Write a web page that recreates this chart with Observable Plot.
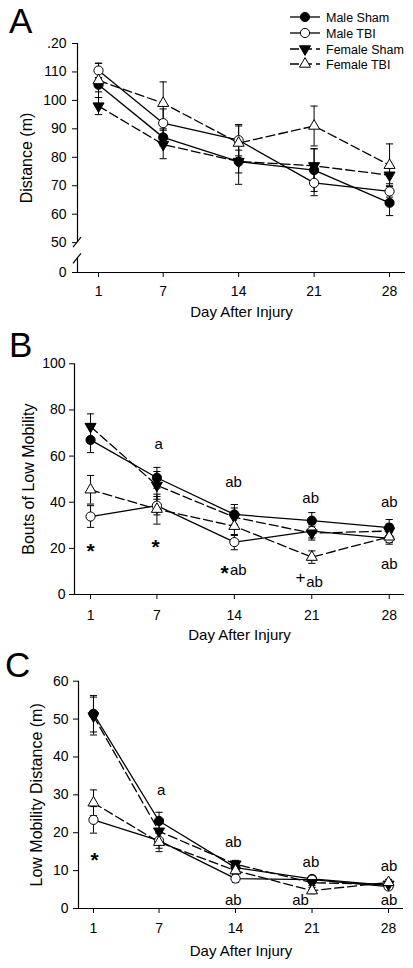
<!DOCTYPE html>
<html><head><meta charset="utf-8">
<script src="https://cdn.jsdelivr.net/npm/d3@7"></script>
<script src="https://cdn.jsdelivr.net/npm/@observablehq/plot@0.6"></script>
<style>
body{margin:0;background:#fff;}
#wrap{position:relative;width:413px;height:968px;overflow:hidden;background:#fff;font-family:"Liberation Sans",Arial,sans-serif;}
.panel{position:absolute;left:0;}
.panel svg{overflow:visible;}
#overlay{position:absolute;left:0;top:0;}
</style></head><body><div id="wrap"></div>
<script>
// ---------- data ----------
const days = [1, 7, 14, 21, 28];
const groups = ["Male Sham", "Male TBI", "Female Sham", "Female TBI"];

// Panel A: Distance (m)
const distMaleSham   = [105.5, 87, 78.5, 75.5, 64];
const distMaleTBI    = [110.5, 92, 86, 71, 68];
const distFemaleSham = [98, 84.5, 78.5, 77, 73.7];
const distFemaleTBI  = [107, 99, 85, 91, 77.2];
const distMaleShamSE   = [2.5, 3, 4, 7.5, 4.5];
const distMaleTBISE    = [2.6, 5, 5.5, 4.5, 2];
const distFemaleShamSE = [3, 5, 8, 6, 3];
const distFemaleTBISE  = [6, 7.5, 6, 7, 7.5];
const yTicksA = [0, 50, 60, 70, 80, 90, 100, 110, 120];
const yTickLabelsA = ["0", "50", "60", "70", "80", "90", "100", "110", ".20"];
const breakA = [50, 23];

// Panel B: Bouts of Low Mobility
const boutsMaleSham   = [67, 50.6, 34.7, 32, 29];
const boutsMaleTBI    = [33.8, 38.5, 22.7, 27.5, 24.3];
const boutsFemaleSham = [72.8, 47.3, 33.5, 26.6, 27.5];
const boutsFemaleTBI  = [45.4, 37, 29.6, 16.2, 25];
const boutsMaleShamSE   = [5.5, 4.5, 4.3, 3.5, 3.5];
const boutsMaleTBISE    = [4.7, 4, 3.3, 3, 2.5];
const boutsFemaleShamSE = [5.5, 6, 4, 3, 3];
const boutsFemaleTBISE  = [6.2, 6.5, 4, 2.7, 2.5];
const yTicksB = [0, 20, 40, 60, 80, 100];
const annotB = [
  {day: 1, v: 21.2, label: "*"},
  {day: 6.88, v: 23, label: "*"},
  {day: 7.15, v: 65, label: "a"},
  {day: 13.93, v: 48.6, label: "ab"},
  {day: 13.11, v: 11.6, label: "*"},
  {day: 14.35, v: 10.7, label: "ab"},
  {day: 20.9, v: 41.9, label: "ab"},
  {day: 19.98, v: 7.5, label: "+"},
  {day: 21.25, v: 5.3, label: "ab"},
  {day: 28, v: 40, label: "ab"},
  {day: 28, v: 13.3, label: "ab"}
];

// Panel C: Low Mobility Distance (m)
const lowMaleSham   = [51.4, 23.1, 10.8, 7.8, 6.1];
const lowMaleTBI    = [23.4, 17.9, 7.9, 7.6, 5.8];
const lowFemaleSham = [50.8, 20.4, 11.7, 6.8, 6.4];
const lowFemaleTBI  = [27.9, 17.5, 10, 4.7, 6.9];
const lowMaleShamSE   = [4.8, 2.3, 1.2, 0.8, 0.7];
const lowMaleTBISE    = [3.5, 2, 1, 0.8, 0.8];
const lowFemaleShamSE = [5, 2, 1, 0.8, 0.8];
const lowFemaleTBISE  = [3.4, 2.5, 1, 0.8, 0.8];
const yTicksC = [0, 10, 20, 30, 40, 50, 60];
const annotC = [
  {day: 1.1, v: 14.4, label: "*"},
  {day: 7.2, v: 31.1, label: "a"},
  {day: 13.8, v: 17.5, label: "ab"},
  {day: 13.8, v: 2.1, label: "ab"},
  {day: 20.9, v: 12.2, label: "ab"},
  {day: 19.95, v: 2.1, label: "ab"},
  {day: 28.05, v: 11.1, label: "ab"},
  {day: 28.05, v: 2.1, label: "ab"}
];

const xLabel = "Day After Injury";
const panelLetters = ["A", "B", "C"];

// ---------- styling ----------
const FONT = '"Liberation Sans", Arial, sans-serif';
const sqrt3 = Math.sqrt(3);
const triangleDown = {
  draw(context, size) {
    const y = -Math.sqrt(size / (sqrt3 * 3));
    context.moveTo(0, -y * 2);
    context.lineTo(-sqrt3 * y, y);
    context.lineTo(sqrt3 * y, y);
    context.closePath();
  }
};
const capSymbol = {
  draw(context) { context.moveTo(-3.6, 0); context.lineTo(3.6, 0); }
};
const groupStyle = {
  "Male Sham":   {symbol: "circle", fill: "black", dash: null, r: 4.6, d3sym: d3.symbolCircle},
  "Male TBI":    {symbol: "circle", fill: "white", dash: null, r: 4.6, d3sym: d3.symbolCircle},
  "Female Sham": {symbol: triangleDown, fill: "black", dash: "9,4", r: 4.1, d3sym: triangleDown},
  "Female TBI":  {symbol: "triangle", fill: "white", dash: "9,4", r: 4.1, d3sym: d3.symbolTriangle}
};

// axis break: values below the break are compressed into a short segment
function makeBreakMap(breakAt, gapUnits) {
  if (breakAt == null) return v => v;
  return v => v >= breakAt ? v : breakAt - (breakAt - v) * gapUnits / breakAt;
}

function makePanel(cfg) {
  const f = makeBreakMap(cfg.breaks ? cfg.breaks[0] : null, cfg.gapUnits);
  const rows = groups.flatMap((g, gi) => days.map((d, i) => ({group: g, day: d, v: cfg.values[gi][i], se: cfg.errors[gi][i]})));
  const x0 = cfg.xDomain[0];
  const yMax = cfg.yTicks[cfg.yTicks.length - 1];
  const marks = [];
  // axis lines
  if (cfg.breaks) {
    marks.push(Plot.ruleX([x0], {x: d => d, y1: f(cfg.breaks[0]), y2: f(yMax), stroke: "black", strokeWidth: 1.2}));
    marks.push(Plot.ruleX([x0], {x: d => d, y1: f(0), y2: f(cfg.breaks[1]), stroke: "black", strokeWidth: 1.2}));
  } else {
    marks.push(Plot.ruleX([x0], {x: d => d, y1: 0, y2: yMax, stroke: "black", strokeWidth: 1.2}));
  }
  marks.push(Plot.ruleY([f(0)], {y: d => d, x1: cfg.xDomain[0], x2: cfg.xDomain[1], stroke: "black", strokeWidth: 1.2}));
  marks.push(Plot.axisX({ticks: days, tickSize: 5, tickPadding: cfg.xTickPad, label: null, fontSize: 14, tickFormat: d => String(d)}));
  const mappedTicks = cfg.yTicks.map(f);
  marks.push(Plot.axisY(mappedTicks, {tickSize: 5, tickPadding: cfg.yTickPad, label: null, fontSize: 14,
    tickFormat: d => {
      const i = mappedTicks.indexOf(d);
      return cfg.yTickLabels ? cfg.yTickLabels[i] : String(cfg.yTicks[i]);
    }}));
  for (const g of groups) {
    const data = rows.filter(r => r.group === g);
    marks.push(Plot.ruleX(data, {x: "day", y1: d => f(d.v - d.se), y2: d => f(d.v + d.se), stroke: "black", strokeWidth: 1}));
    marks.push(Plot.dot(data, {x: "day", y: d => f(d.v + d.se), symbol: capSymbol, r: 1, fill: "none", stroke: "black", strokeWidth: 1}));
    marks.push(Plot.dot(data, {x: "day", y: d => f(d.v - d.se), symbol: capSymbol, r: 1, fill: "none", stroke: "black", strokeWidth: 1}));
  }
  for (const g of groups) {
    const data = rows.filter(r => r.group === g);
    const st = groupStyle[g];
    marks.push(Plot.line(data, {x: "day", y: d => f(d.v), stroke: "black", strokeWidth: 1.3, strokeDasharray: st.dash || undefined}));
  }
  for (const g of groups) {
    const data = rows.filter(r => r.group === g);
    const st = groupStyle[g];
    marks.push(Plot.dot(data, {x: "day", y: d => f(d.v), symbol: st.symbol, r: st.r, fill: st.fill, stroke: "black", strokeWidth: 1}));
  }
  if (cfg.annots) {
    const ast = cfg.annots.filter(a => a.label === "*");
    const plus = cfg.annots.filter(a => a.label === "+");
    const other = cfg.annots.filter(a => a.label !== "*" && a.label !== "+");
    marks.push(Plot.text(ast, {x: "day", y: d => f(d.v), text: "label", fontSize: 21, fontWeight: "bold", dy: 6, fill: "black"}));
    marks.push(Plot.text(plus, {x: "day", y: d => f(d.v), text: "label", fontSize: 17, fill: "black"}));
    marks.push(Plot.text(other, {x: "day", y: d => f(d.v), text: "label", fontSize: 15, fill: "black"}));
  }
  marks.push(Plot.text([xLabel], {text: d => d, frameAnchor: "bottom", textAnchor: "middle", dy: cfg.xLabelDy, fontSize: 15, fill: "black", lineAnchor: "middle"}));
  marks.push(Plot.text([cfg.yLabel], {text: d => d, frameAnchor: "left", textAnchor: "middle", dx: cfg.yLabelDx, rotate: -90, fontSize: 16, fill: "black", lineAnchor: "middle"}));

  const plot = Plot.plot({
    width: 413, height: cfg.height,
    marginLeft: cfg.left, marginRight: 413 - cfg.right, marginTop: cfg.top, marginBottom: cfg.height - cfg.bottom,
    x: {domain: cfg.xDomain},
    y: {domain: [f(0), f(yMax)]},
    style: {fontFamily: FONT, fontSize: "14px", color: "black", background: "transparent", overflow: "visible"},
    marks
  });
  if (cfg.breaks) {
    const sx = plot.scale("x"), sy = plot.scale("y");
    const px = sx.apply(x0);
    const svg = d3.select(plot);
    for (const b of cfg.breaks) {
      const py = sy.apply(f(b));
      svg.append("line").attr("x1", px - 4).attr("y1", py + 5).attr("x2", px + 4).attr("y2", py - 5)
        .attr("stroke", "black").attr("stroke-width", 1.2);
    }
  }
  return plot;
}

const wrap = document.getElementById("wrap");
const panels = [
  {top: 0, cfg: {
    values: [distMaleSham, distMaleTBI, distFemaleSham, distFemaleTBI],
    errors: [distMaleShamSE, distMaleTBISE, distFemaleShamSE, distFemaleTBISE],
    yTicks: yTicksA, yTickLabels: yTickLabelsA, breaks: breakA, gapUnits: 10.5,
    xDomain: [-0.95, 29.48], left: 77, right: 405, top: 43, bottom: 272, height: 320,
    yLabel: "Distance (m)", xLabelDy: 40, yLabelDx: -51, yTickPad: 6, xTickPad: 9
  }},
  {top: 320, cfg: {
    values: [boutsMaleSham, boutsMaleTBI, boutsFemaleSham, boutsFemaleTBI],
    errors: [boutsMaleShamSE, boutsMaleTBISE, boutsFemaleShamSE, boutsFemaleTBISE],
    yTicks: yTicksB, annots: annotB,
    xDomain: [-0.45, 29.38], left: 74, right: 404, top: 43.3, bottom: 274, height: 320,
    yLabel: "Bouts of Low Mobility", xLabelDy: 41, yLabelDx: -46, yTickPad: 4, xTickPad: 11
  }},
  {top: 640, cfg: {
    values: [lowMaleSham, lowMaleTBI, lowFemaleSham, lowFemaleTBI],
    errors: [lowMaleShamSE, lowMaleTBISE, lowFemaleShamSE, lowFemaleTBISE],
    yTicks: yTicksC, annots: annotC,
    xDomain: [-0.37, 29.37], left: 78, right: 403, top: 40.7, bottom: 268, height: 328,
    yLabel: "Low Mobility Distance (m)", xLabelDy: 43, yLabelDx: -42, yTickPad: 5, xTickPad: 10
  }}
];
for (const p of panels) {
  const div = document.createElement("div");
  div.className = "panel";
  div.style.top = p.top + "px";
  div.appendChild(makePanel(p.cfg));
  wrap.appendChild(div);
}

// overlay: panel letters + legend
const ov = d3.select(wrap).append("svg").attr("id", "overlay").attr("width", 413).attr("height", 968)
  .style("font-family", FONT);
const letterPos = [[9, 33], [9, 357], [5, 677]];
panelLetters.forEach((L, i) => {
  ov.append("text").attr("x", letterPos[i][0]).attr("y", letterPos[i][1]).attr("font-size", 35).attr("fill", "black").text(L);
});
const legRows = [17, 33, 49, 64];
groups.forEach((g, i) => {
  const st = groupStyle[g];
  const y = legRows[i];
  ov.append("line").attr("x1", 290).attr("x2", 320).attr("y1", y).attr("y2", y)
    .attr("stroke", "black").attr("stroke-width", 1.3).attr("stroke-dasharray", st.dash || null);
  ov.append("path").attr("transform", `translate(305,${y})`)
    .attr("d", d3.symbol(st.d3sym, Math.PI * st.r * st.r)())
    .attr("fill", st.fill).attr("stroke", "black").attr("stroke-width", 1);
  ov.append("text").attr("x", 326).attr("y", y + 4.5).attr("font-size", 12.5).attr("fill", "black").text(g);
});
</script></body></html>
